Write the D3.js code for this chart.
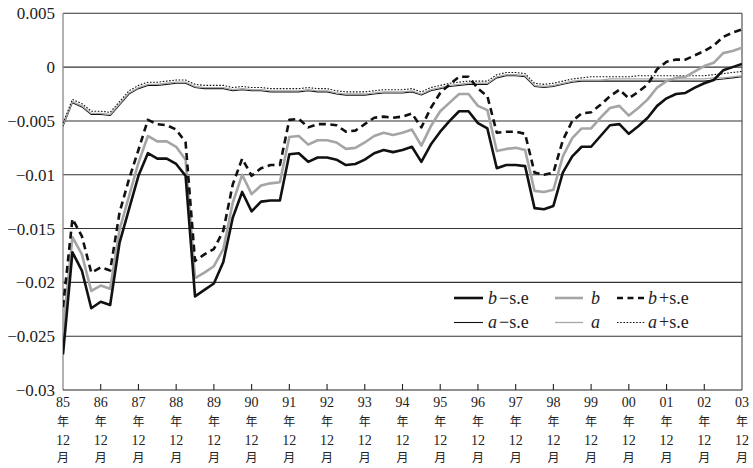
<!DOCTYPE html>
<html><head><meta charset="utf-8">
<script src="https://cdn.jsdelivr.net/npm/d3@7"></script>
<style>body{margin:0;background:#fff}svg{display:block}</style>
</head><body>
<svg id="c" width="753" height="468"></svg>
<script>
// ---- data ----
const yearLabels = ["85","86","87","88","89","90","91","92","93","94","95","96","97","98","99","00","01","02","03"];
const yTicks = [0.005, 0, -0.005, -0.01, -0.015, -0.02, -0.025, -0.03];
const yTickLabels = ["0.005","0","\u22120.005","\u22120.01","\u22120.015","\u22120.02","\u22120.025","\u22120.03"];

// quarterly values, Dec 1985 .. Dec 2003
const bLow = [-0.0267,-0.0172,-0.0189,-0.0224,-0.0218,-0.0221,-0.0163,-0.0132,-0.0101,-0.0080,-0.0085,-0.0085,-0.0090,-0.0101,
  -0.0213,-0.0207,-0.0201,-0.0181,-0.0140,-0.0116,-0.0134,-0.0125,-0.0124,-0.0124,-0.0081,-0.0080,-0.0088,-0.0084,-0.0084,
  -0.0086,-0.0091,-0.0090,-0.0086,-0.0080,-0.0077,-0.0079,-0.0077,-0.0074,-0.0088,-0.0072,-0.0060,-0.0050,-0.0041,-0.0041,
  -0.0052,-0.0057,-0.0094,-0.0091,-0.0091,-0.0092,-0.0131,-0.0132,-0.0129,-0.0098,-0.0083,-0.0074,-0.0074,-0.0064,-0.0054,
  -0.0053,-0.0062,-0.0055,-0.0047,-0.0036,-0.0029,-0.0025,-0.0024,-0.0019,-0.0015,-0.0012,-0.0003,0.0000,0.0003];
const b = [-0.0245,-0.0158,-0.0174,-0.0208,-0.0203,-0.0206,-0.0151,-0.0120,-0.0089,-0.0064,-0.0069,-0.0069,-0.0074,-0.0086,
  -0.0196,-0.0191,-0.0185,-0.0169,-0.0126,-0.0100,-0.0118,-0.0110,-0.0108,-0.0107,-0.0065,-0.0064,-0.0072,-0.0068,-0.0068,
  -0.0070,-0.0076,-0.0075,-0.0070,-0.0064,-0.0061,-0.0063,-0.0061,-0.0058,-0.0073,-0.0055,-0.0041,-0.0033,-0.0025,-0.0025,
  -0.0036,-0.0040,-0.0078,-0.0076,-0.0075,-0.0077,-0.0115,-0.0116,-0.0114,-0.0083,-0.0066,-0.0057,-0.0057,-0.0047,-0.0038,
  -0.0036,-0.0045,-0.0038,-0.0030,-0.0019,-0.0013,-0.0010,-0.0009,-0.0004,0.0001,0.0004,0.0013,0.0015,0.0018];
const bHigh = [-0.0223,-0.0141,-0.0157,-0.0191,-0.0186,-0.0189,-0.0135,-0.0104,-0.0077,-0.0049,-0.0053,-0.0054,-0.0058,-0.0070,
  -0.0180,-0.0174,-0.0169,-0.0152,-0.0109,-0.0085,-0.0101,-0.0094,-0.0091,-0.0091,-0.0049,-0.0048,-0.0056,-0.0053,-0.0053,
  -0.0054,-0.0060,-0.0059,-0.0053,-0.0047,-0.0046,-0.0047,-0.0046,-0.0043,-0.0056,-0.0038,-0.0024,-0.0016,-0.0009,-0.0009,
  -0.0020,-0.0027,-0.0061,-0.0060,-0.0060,-0.0062,-0.0098,-0.0100,-0.0098,-0.0068,-0.0050,-0.0043,-0.0042,-0.0035,-0.0027,
  -0.0021,-0.0029,-0.0023,-0.0016,-0.0002,0.0005,0.0007,0.0007,0.0011,0.0015,0.0020,0.0028,0.0032,0.0035];
const aLow = [-0.0055,-0.0033,-0.0037,-0.0044,-0.0044,-0.0045,-0.0035,-0.0025,-0.0020,-0.0017,-0.0017,-0.0016,-0.0015,-0.0015,
  -0.0019,-0.0020,-0.0020,-0.0020,-0.0022,-0.0021,-0.0022,-0.0022,-0.0023,-0.0023,-0.0023,-0.0023,-0.0022,-0.0023,-0.0023,
  -0.0025,-0.0026,-0.0026,-0.0026,-0.0025,-0.0024,-0.0024,-0.0024,-0.0023,-0.0026,-0.0022,-0.0020,-0.0018,-0.0017,-0.0016,
  -0.0016,-0.0016,-0.0010,-0.0008,-0.0008,-0.0009,-0.0018,-0.0019,-0.0018,-0.0016,-0.0014,-0.0013,-0.0013,-0.0013,-0.0013,
  -0.0013,-0.0013,-0.0013,-0.0013,-0.0013,-0.0013,-0.0013,-0.0013,-0.0013,-0.0013,-0.0012,-0.0011,-0.0010,-0.0009];
const a = [-0.0054,-0.0032,-0.0036,-0.0043,-0.0043,-0.0044,-0.0034,-0.0024,-0.0019,-0.0016,-0.0016,-0.0015,-0.0014,-0.0014,
  -0.0018,-0.0019,-0.0019,-0.0019,-0.0021,-0.0020,-0.0021,-0.0021,-0.0022,-0.0022,-0.0022,-0.0022,-0.0021,-0.0022,-0.0022,
  -0.0024,-0.0025,-0.0025,-0.0025,-0.0024,-0.0023,-0.0023,-0.0023,-0.0022,-0.0025,-0.0021,-0.0019,-0.0017,-0.0016,-0.0015,
  -0.0015,-0.0015,-0.0009,-0.0007,-0.0007,-0.0008,-0.0017,-0.0018,-0.0017,-0.0015,-0.0013,-0.0012,-0.0012,-0.0012,-0.0011,
  -0.0011,-0.0011,-0.0011,-0.0011,-0.0011,-0.0011,-0.0011,-0.0011,-0.0011,-0.0011,-0.0010,-0.0010,-0.0009,-0.0008];
const aHigh = [-0.0052,-0.0030,-0.0034,-0.0041,-0.0041,-0.0042,-0.0032,-0.0022,-0.0017,-0.0014,-0.0014,-0.0013,-0.0012,-0.0012,
  -0.0016,-0.0017,-0.0017,-0.0017,-0.0019,-0.0018,-0.0019,-0.0019,-0.0020,-0.0020,-0.0020,-0.0020,-0.0019,-0.0020,-0.0020,
  -0.0022,-0.0023,-0.0023,-0.0023,-0.0022,-0.0021,-0.0021,-0.0021,-0.0020,-0.0023,-0.0019,-0.0017,-0.0015,-0.0014,-0.0013,
  -0.0013,-0.0013,-0.0007,-0.0005,-0.0005,-0.0006,-0.0015,-0.0016,-0.0015,-0.0013,-0.0011,-0.0010,-0.0009,-0.0009,-0.0009,
  -0.0009,-0.0009,-0.0008,-0.0008,-0.0008,-0.0008,-0.0008,-0.0008,-0.0008,-0.0008,-0.0007,-0.0006,-0.0005,-0.0004];
const seriesNames = ["b","b","b","a","a","a"];
const seriesSuffix = ["\u2212s.e","","+s.e","\u2212s.e","","+s.e"];

// ---- drawing ----
const svg = d3.select("#c");
const L = 63, R = 742, T = 13.3, B = 390;
const x = d3.scaleLinear().domain([0, b.length - 1]).range([L, R]);
const y = d3.scaleLinear().domain([-0.03, 0.005]).range([B, T]);
const serif = "Liberation Serif, DejaVu Serif, Noto Serif, Times New Roman, serif";
const cjk = "Noto Sans CJK JP, Noto Sans CJK SC, sans-serif";

// gridlines
svg.append("g").selectAll("line").data(yTicks.filter(v => v > -0.03)).join("line")
  .attr("x1", L).attr("x2", R).attr("y1", d => y(d)).attr("y2", d => y(d))
  .attr("stroke", "#333").attr("stroke-width", 1.1);
// right border
svg.append("line").attr("x1", R).attr("x2", R).attr("y1", T).attr("y2", B).attr("stroke", "#444").attr("stroke-width", 1.1);
// left axis
svg.append("line").attr("x1", L).attr("x2", L).attr("y1", T).attr("y2", B).attr("stroke", "#888").attr("stroke-width", 1.3);
// bottom axis
svg.append("line").attr("x1", L).attr("x2", R).attr("y1", B).attr("y2", B).attr("stroke", "#222").attr("stroke-width", 1.2);

// y tick labels
svg.append("g").selectAll("text").data(yTicks).join("text")
  .attr("x", 55).attr("y", d => y(d)).attr("dy", "0.35em")
  .attr("text-anchor", "end").style("font-family", serif).attr("font-size", 17).attr("fill", "#222")
  .text((d, i) => yTickLabels[i]);

// x ticks + labels (four stacked lines)
const xt = svg.append("g");
yearLabels.forEach((lab, k) => {
  const xx = x(k * 4);
  if (k > 0 && k < yearLabels.length - 1)
    xt.append("line").attr("x1", xx).attr("x2", xx).attr("y1", B).attr("y2", B - 6).attr("stroke", "#222").attr("stroke-width", 1.1);
  const rows = [
    {t: lab, y: 407, fs: 14, f: serif},
    {t: "年", y: 425.5, fs: 12, f: cjk},
    {t: "12", y: 445, fs: 14, f: serif},
    {t: "月", y: 461.5, fs: 12, f: cjk}
  ];
  rows.forEach(r => {
    xt.append("text").attr("x", xx).attr("y", r.y).attr("text-anchor", "middle").attr("fill", "#222")
      .style("font-family", r.f).attr("font-size", r.fs).text(r.t);
  });
});

const styles = [
  {data: aLow,  stroke: "#111", w: 1.1, dash: null},
  {data: a,     stroke: "#a8a8a8", w: 1.3, dash: null},
  {data: aHigh, stroke: "#111", w: 1.1, dash: "1.6,1.6"},
  {data: b,     stroke: "#a5a5a5", w: 2.6, dash: null},
  {data: bHigh, stroke: "#111", w: 2.6, dash: "7,4.5"},
  {data: bLow,  stroke: "#111", w: 2.6, dash: null}
];
const line = d3.line().x((d, i) => x(i)).y(d => y(d));
svg.append("clipPath").attr("id", "pc").append("rect").attr("x", L).attr("y", T - 2).attr("width", R - L).attr("height", B - T + 2);
const gl = svg.append("g").attr("clip-path", "url(#pc)");
styles.forEach(s => {
  gl.append("path").attr("d", line(s.data)).attr("fill", "none")
    .attr("stroke", s.stroke).attr("stroke-width", s.w).attr("stroke-linejoin", "round")
    .attr("stroke-dasharray", s.dash);
});

// legend
const legendItems = [
  {s: styles[5], col: 0, row: 0, n: 0},
  {s: styles[3], col: 1, row: 0, n: 1},
  {s: styles[4], col: 2, row: 0, n: 2},
  {s: styles[0], col: 0, row: 1, n: 3},
  {s: styles[1], col: 1, row: 1, n: 4},
  {s: styles[2], col: 2, row: 1, n: 5}
];
const colX = [[454, 483, 488], [555, 583, 591], [617, 645, 648]];
const rowY = [298, 322.5];
legendItems.forEach(it => {
  const [x1, x2, tx] = colX[it.col];
  const yy = rowY[it.row];
  let dash = it.s.dash;
  if (it.n === 2) dash = "6,4.5";
  svg.append("line").attr("x1", x1).attr("x2", x2).attr("y1", yy).attr("y2", yy)
    .attr("stroke", it.s.stroke).attr("stroke-width", it.s.w).attr("stroke-dasharray", dash);
  const t = svg.append("text").attr("x", tx).attr("y", yy).attr("dy", "0.33em")
    .style("font-family", serif).attr("font-size", 18).attr("fill", "#222");
  t.append("tspan").attr("font-style", "italic").text(seriesNames[it.n]);
  if (seriesSuffix[it.n]) t.append("tspan").attr("dx", 2).text(seriesSuffix[it.n]);
});
</script>
</body></html>
